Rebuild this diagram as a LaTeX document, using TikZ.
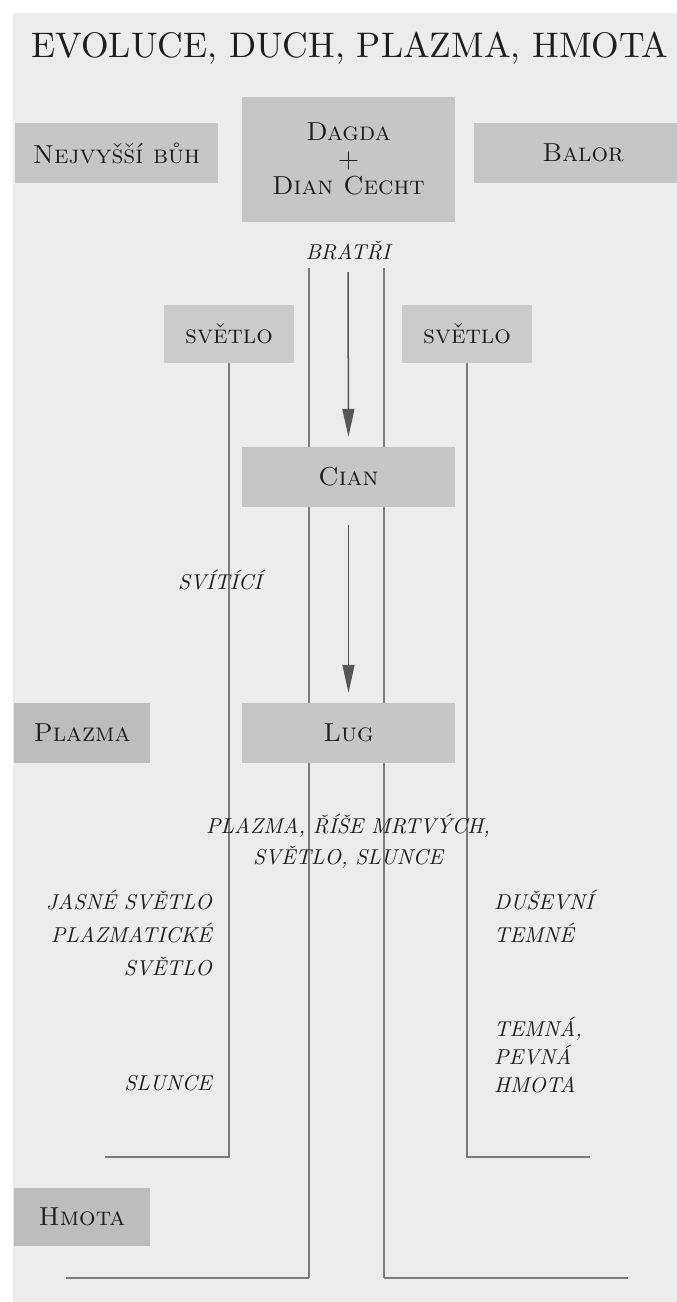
\documentclass[tikz,border=0pt]{standalone}
\usepackage{fontspec}
\setmainfont{lmroman10-regular.otf}[
  ItalicFont=lmroman10-italic.otf,
  BoldFont=lmroman10-bold.otf,
  SmallCapsFont=lmromancaps10-regular.otf]
\usetikzlibrary{arrows.meta}

\pgfdeclarelayer{paper}
\pgfdeclarelayer{wires}
\pgfsetlayers{paper,wires,main}

\definecolor{paperbg}{HTML}{ECECEC}
\definecolor{boxfill}{HTML}{C6C6C6}
\definecolor{boxlight}{HTML}{CBCBCB}
\definecolor{boxdark}{HTML}{BDBDBD}
\definecolor{wire}{HTML}{7C7C7C}
\definecolor{ink}{HTML}{1E1E1E}

\tikzset{
  heading/.style={text=ink, inner sep=0pt, font=\fontsize{35.5}{42}\selectfont},
  panel/.style={fill=boxfill, draw=none, inner sep=0pt, align=center, text=ink,
                font=\fontsize{26}{29}\selectfont\scshape},
  note/.style={text=ink, inner sep=0pt, font=\fontsize{21.5}{33}\selectfont\itshape},
  wireline/.style={draw=wire, line width=1.7pt},
  baseline wire/.style={draw=wire, line width=2.6pt},
  flow/.style={draw=wire!70!black, line width=1.5pt,
               -{Triangle[width=12pt,length=28pt]}},
}

\begin{document}
\begin{tikzpicture}[x=1pt,y=-1pt]
\useasboundingbox (0,0) rectangle (677,1302);

% paper
\begin{pgfonlayer}{paper}
  \fill[white] (0,0) rectangle (677,1302);
  \fill[paperbg] (13,13) rectangle (677,1302);
\end{pgfonlayer}

% heading
\node[heading] (title) at (350,48) {EVOLUCE, DUCH, PLAZMA, HMOTA};

% top row
\node[panel, minimum width=203pt, minimum height=60pt] (nejv) at (116.5,153) {Nejvyšší bůh};
\node[panel, minimum width=213pt, minimum height=125pt] (dagda) at (348.5,159) {Dagda\\[-2pt]+\\[-2pt]Dian Cecht};
\node[panel, minimum width=218pt, minimum height=60pt] (balor) at (583,153) {Balor};

\node[note] (bratri) at (348,250) {BRATŘI};

% light boxes
\node[panel, fill=boxlight, minimum width=130pt, minimum height=58pt] (svL) at (229,334) {světlo};
\node[panel, fill=boxlight, minimum width=130pt, minimum height=58pt] (svR) at (467,334) {světlo};

% middle column
\node[panel, minimum width=213pt, minimum height=60pt] (cian) at (348.5,477) {Cian};
\node[panel, minimum width=213pt, minimum height=60pt] (lug) at (348.5,733) {Lug};

% left-hand levels
\node[panel, fill=boxdark, minimum width=136pt, minimum height=60pt] (plazma) at (82,733) {Plazma};
\node[panel, fill=boxdark, minimum width=136pt, minimum height=58pt] (hmota) at (82,1216.5) {Hmota};

% italic notes
\node[note] (sviti) at (220,580) {SVÍTÍCÍ};
\node[note, align=center, font=\fontsize{21.5}{31}\selectfont\itshape] (risemrtvych) at (348,841) {PLAZMA, ŘÍŠE MRTVÝCH,\\SVĚTLO, SLUNCE};
\node[note, align=right, anchor=north east] (jasne) at (212,890) {JASNÉ SVĚTLO\\PLAZMATICKÉ\\SVĚTLO};
\node[note, anchor=east] (slunce) at (212,1083) {SLUNCE};
\node[note, align=left, anchor=north west] (dusevni) at (494,890) {DUŠEVNÍ\\TEMNÉ};
\node[note, align=left, anchor=north west, font=\fontsize{21.5}{28}\selectfont\itshape] (temna) at (494,1017) {TEMNÁ,\\PEVNÁ\\HMOTA};

% wire end points
\coordinate (ltop) at (309,268);
\coordinate (lcorner) at (309,1278);
\coordinate (lend) at (66,1278);
\coordinate (rtop) at (384,268);
\coordinate (rcorner) at (384,1278);
\coordinate (rend) at (628,1278);
\coordinate (lbracket) at (105,1157);
\coordinate (rbracket) at (590,1157);
\coordinate (atop) at (348,272);

\begin{pgfonlayer}{wires}
  \draw[wireline] (ltop) -- (lcorner);
  \draw[baseline wire] (lcorner) -- (lend);
  \draw[wireline] (rtop) -- (rcorner);
  \draw[baseline wire] (rcorner) -- (rend);
  \draw[wireline] (svL.south) |- (lbracket);
  \draw[wireline] (svR.south) |- (rbracket);
\end{pgfonlayer}

% descent arrows
\draw[flow, shorten >=10pt] (atop) -- (cian.north);
\draw[flow, shorten <=18pt, shorten >=10pt] (cian.south) -- (lug.north);
\end{tikzpicture}
\end{document}
